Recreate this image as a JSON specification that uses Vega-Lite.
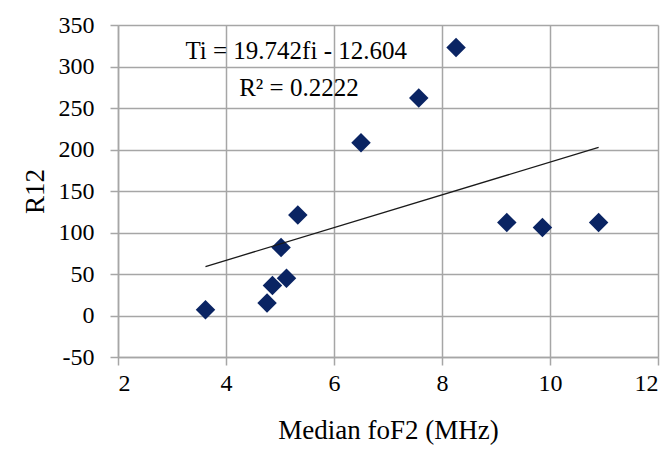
{
  "$schema": "https://vega.github.io/schema/vega-lite/v6.json",
  "autosize": "none",
  "width": 540,
  "height": 332,
  "padding": {"left": 118, "top": 25, "right": 14, "bottom": 95},
  "background": "white",
  "config": {
    "view": {"stroke": null},
    "font": "Liberation Serif",
    "axis": {
      "labelFont": "Liberation Serif",
      "titleFont": "Liberation Serif",
      "labelFontSize": 24,
      "titleFontSize": 27,
      "labelColor": "#000",
      "titleColor": "#000",
      "titleFontWeight": "normal",
      "gridColor": "#a6a6a6",
      "gridWidth": 1.5,
      "gridOpacity": 1,
      "domainColor": "#a6a6a6",
      "domainWidth": 1.5,
      "tickColor": "#a6a6a6",
      "tickWidth": 1.5,
      "tickSize": 8
    }
  },
  "datasets": {
    "pts": [
      {"foF2": 3.62, "R12": 7},
      {"foF2": 4.76, "R12": 15},
      {"foF2": 4.86, "R12": 36},
      {"foF2": 5.12, "R12": 45},
      {"foF2": 5.02, "R12": 82},
      {"foF2": 5.33, "R12": 121},
      {"foF2": 6.5, "R12": 208},
      {"foF2": 7.57, "R12": 262},
      {"foF2": 8.26, "R12": 323},
      {"foF2": 9.2, "R12": 112},
      {"foF2": 9.86, "R12": 106},
      {"foF2": 10.9, "R12": 112}
    ],
    "trend": [
      {"foF2": 3.62, "R12": 58.9},
      {"foF2": 10.9, "R12": 202.6}
    ],
    "labels": [
      {"foF2": 5.3, "R12": 319, "t": "Ti = 19.742fi - 12.604"},
      {"foF2": 5.35, "R12": 274, "t": "R² = 0.2222"}
    ]
  },
  "layer": [
    {
      "data": {"name": "pts"},
      "mark": {"type": "point", "shape": "diamond", "filled": true, "size": 380, "color": "#0a2463", "opacity": 1},
      "encoding": {
        "x": {
          "field": "foF2", "type": "quantitative",
          "scale": {"domain": [2, 12], "nice": false, "zero": false},
          "axis": {"values": [2, 4, 6, 8, 10, 12], "title": "Median foF2 (MHz)", "labelFont": "Liberation Serif", "titleFont": "Liberation Serif", "labelPadding": 6, "titlePadding": 22}
        },
        "y": {
          "field": "R12", "type": "quantitative",
          "scale": {"domain": [-50, 350], "nice": false, "zero": false},
          "axis": {"values": [-50, 0, 50, 100, 150, 200, 250, 300, 350], "title": "R12", "labelFont": "Liberation Serif", "titleFont": "Liberation Serif", "labelExpr": "replace(datum.label, '−', '-')", "labelPadding": 16, "titlePadding": 9}
        }
      }
    },
    {
      "data": {"name": "trend"},
      "mark": {"type": "line", "color": "#1a1a1a", "strokeWidth": 1.3},
      "encoding": {
        "x": {"field": "foF2", "type": "quantitative"},
        "y": {"field": "R12", "type": "quantitative"}
      }
    },
    {
      "data": {"name": "labels"},
      "mark": {"type": "text", "font": "Liberation Serif", "fontSize": 25, "color": "#000", "align": "center", "baseline": "middle"},
      "encoding": {
        "x": {"field": "foF2", "type": "quantitative"},
        "y": {"field": "R12", "type": "quantitative"},
        "text": {"field": "t"}
      }
    }
  ]
}
